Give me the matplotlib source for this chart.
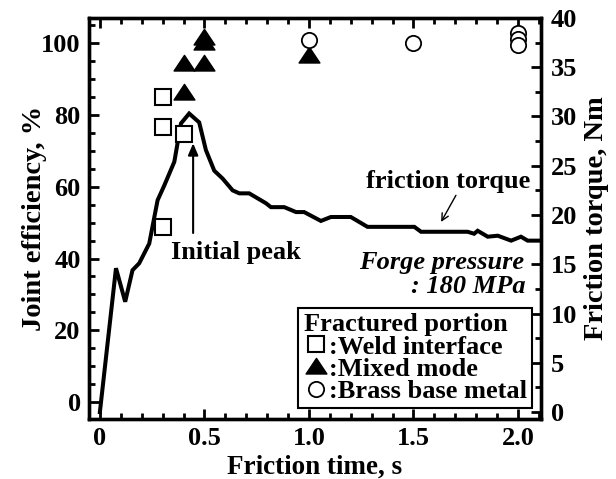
import matplotlib
matplotlib.use("Agg")
import matplotlib.pyplot as plt
from matplotlib.ticker import MultipleLocator
from matplotlib.path import Path

plt.rcParams["font.family"] = ["Liberation Serif", "DejaVu Serif"]
plt.rcParams["font.weight"] = "bold"

# Friction torque trace (Nm) vs friction time (s)
torque_time = [0.0, 0.077, 0.121, 0.156, 0.188, 0.236, 0.276, 0.308, 0.356, 0.388,
               0.427, 0.475, 0.507, 0.547, 0.587, 0.635, 0.667, 0.714, 0.794, 0.818,
               0.882, 0.938, 0.977, 1.057, 1.105, 1.200, 1.280, 1.504, 1.536, 1.759,
               1.790, 1.807, 1.855, 1.903, 1.967, 2.014, 2.046, 2.110]
torque_nm = [0.0, 14.6, 11.2, 14.4, 15.1, 17.1, 21.5, 23.0, 25.4, 29.3,
             30.3, 29.4, 26.6, 24.5, 23.7, 22.5, 22.2, 22.2, 21.2, 20.8,
             20.8, 20.3, 20.3, 19.4, 19.8, 19.8, 18.8, 18.8, 18.3, 18.3,
             18.1, 18.4, 17.8, 17.9, 17.4, 17.8, 17.4, 17.4]

# Joint efficiency (%) grouped by fractured portion
weld_time = [0.30, 0.30, 0.30, 0.40]
weld_eff = [85.0, 76.7, 48.8, 74.8]
mixed_time = [0.40, 0.40, 0.50, 0.50, 0.50, 1.00]
mixed_eff = [86.3, 94.5, 94.5, 101.6, 100.2, 96.7]
brass_time = [1.00, 1.50, 2.00, 2.00, 2.00]
brass_eff = [101.0, 99.9, 102.7, 101.1, 99.6]

fig = plt.figure(figsize=(6.16, 4.79), dpi=100)
ax = fig.add_axes([0.1445, 0.1253, 0.7338, 0.8372])
ax2 = ax.twinx()
ax.set_zorder(ax2.get_zorder() + 1)
ax.patch.set_visible(False)

ax.set_xlim(-0.052, 2.11)
ax.set_ylim(-4.7, 107)
ax2.set_ylim(-0.7, 40)

ax2.plot(torque_time, torque_nm, color="black", lw=2.9, solid_joinstyle="miter")

tri = Path([(-1, -0.72), (1, -0.72), (0, 0.78), (-1, -0.72)],
           [Path.MOVETO, Path.LINETO, Path.LINETO, Path.CLOSEPOLY])
h_weld, = ax.plot(weld_time, weld_eff, ls="none", marker="s", ms=11.5,
                  mfc="white", mec="black", mew=1.5)
h_mixed, = ax.plot(mixed_time, mixed_eff, ls="none", marker=tri, ms=15,
                   mfc="black", mec="black", mew=1.0)
h_brass, = ax.plot(brass_time, brass_eff, ls="none", marker="o", ms=11,
                   mfc="white", mec="black", mew=1.3)

fs = 19
for a in (ax, ax2):
    for s in a.spines.values():
        s.set_linewidth(2.4)

ax.xaxis.set_major_locator(MultipleLocator(0.5))
ax.xaxis.set_minor_locator(MultipleLocator(0.1))
ax.yaxis.set_major_locator(MultipleLocator(20))
ax.yaxis.set_minor_locator(MultipleLocator(5))
ax2.yaxis.set_major_locator(MultipleLocator(5))
ax2.yaxis.set_minor_locator(MultipleLocator(2.5))

ax.tick_params(axis="both", which="major", direction="in", length=7, width=2,
               labelsize=fs, pad=6)
ax.tick_params(axis="both", which="minor", direction="in", length=4.5, width=2)
ax.tick_params(axis="x", which="both", top=True)
ax.tick_params(axis="y", which="both", right=False)
ax2.tick_params(axis="y", which="major", direction="in", length=7, width=2,
                labelsize=fs, pad=7)
ax2.tick_params(axis="y", which="minor", direction="in", length=4.5, width=2)

ax.set_xticks([0, 0.5, 1.0, 1.5, 2.0])
ax.set_xticklabels(["0", "0.5", "1.0", "1.5", "2.0"])

ax.set_xlabel("Friction time, s", fontsize=19.5, fontweight="bold", labelpad=3)
ax.set_ylabel("Joint efficiency, %", fontsize=20.5, fontweight="bold", labelpad=-4)
ax2.set_ylabel("Friction torque, Nm", fontsize=20.5, fontweight="bold", labelpad=5)

# Annotations
ax.annotate("", xy=(0.446, 72.1), xytext=(0.446, 47.1),
            arrowprops=dict(arrowstyle="-|>,head_length=0.7,head_width=0.3",
                            color="black", lw=1.5, shrinkA=0, shrinkB=0))
ax.text(0.651, 41.8, "Initial peak", fontsize=fs, fontweight="bold",
        ha="center", va="center")

ax2.annotate("", xy=(1.632, 19.3), xytext=(1.703, 22.0),
             arrowprops=dict(arrowstyle="->,head_length=0.5,head_width=0.25",
                             color="black", lw=1.0, shrinkA=0, shrinkB=0))
ax2.text(1.665, 23.4, "friction torque", fontsize=fs, fontweight="bold",
         ha="center", va="center")

ax2.text(2.029, 15.2, "Forge pressure", fontsize=fs, fontweight="bold",
         style="italic", ha="right", va="center")
ax2.text(2.038, 12.7, ": 180 MPa", fontsize=fs, fontweight="bold",
         style="italic", ha="right", va="center")

leg = ax.legend([h_weld, h_mixed, h_brass],
                [":Weld interface", ":Mixed mode", ":Brass base metal"],
                title="Fractured portion", loc="lower right",
                bbox_to_anchor=(0.98, 0.027), frameon=True, fancybox=False,
                framealpha=1, edgecolor="black", fontsize=fs,
                title_fontproperties={"size": fs, "weight": "bold"},
                handlelength=0.9, handletextpad=0.05, borderpad=0.2,
                labelspacing=-0.05, borderaxespad=0, alignment="left",
                numpoints=1)
leg.get_frame().set_linewidth(1.5)
for t in leg.get_texts():
    t.set_fontweight("bold")

fig.savefig("out.png", dpi=100)
